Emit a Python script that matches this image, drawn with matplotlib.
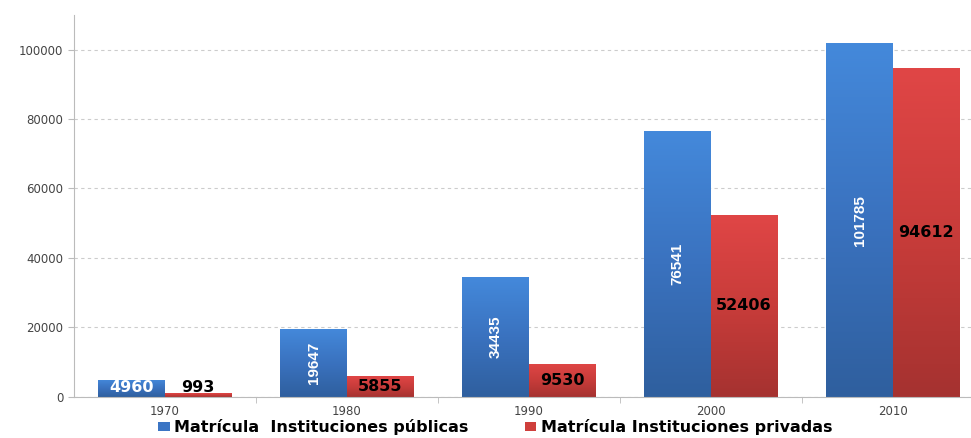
import numpy as np
import matplotlib
matplotlib.use("Agg")
from matplotlib import pyplot as plt
from matplotlib.colors import LinearSegmentedColormap

years = ["1970", "1980", "1990", "2000", "2010"]
publicas = [4960, 19647, 34435, 76541, 101785]
privadas = [993, 5855, 9530, 52406, 94612]
label_pub = "Matrícula  Instituciones públicas"
label_priv = "Matrícula Instituciones privadas"

fig = plt.figure(figsize=(9.71, 4.38), dpi=100)
ax = fig.add_axes([0.076, 0.094, 0.924, 0.872])

x = np.arange(len(years))
w = 0.365
b1 = ax.bar(x - w / 2, publicas, w, color="#3b75c4", label=label_pub, zorder=2)
b2 = ax.bar(x + w / 2, privadas, w, color="#cf3f3c", label=label_priv, zorder=2)

# fake the shaded look of the original bars
cm_blue = LinearSegmentedColormap.from_list("b", ["#2f5f9e", "#3a72bf", "#4489db"])
cm_red = LinearSegmentedColormap.from_list("r", ["#a53230", "#c83c3a", "#e04646"])
grad = np.linspace(0, 1, 256).reshape(-1, 1)
for bars, cm in ((b1, cm_blue), (b2, cm_red)):
    for p in bars:
        x0, y0 = p.get_x(), p.get_y()
        im = ax.imshow(grad, cmap=cm, aspect="auto", origin="lower",
                       extent=(x0, x0 + p.get_width(), y0, y0 + p.get_height()),
                       zorder=2.5)
        im.set_clip_path(p)
        p.set_edgecolor("none")

narrow = ["Liberation Sans", "DejaVu Sans"]
for i, v in enumerate(publicas):
    if i == 0:
        ax.text(x[i] - w / 2, v / 2 + 300, f"{v}", ha="center", va="center",
                color="white", fontsize=11.5, fontweight="bold", zorder=4)
    else:
        ax.text(x[i] - w / 2, v / 2, f"{v}", ha="center", va="center",
                color="white", fontsize=11, fontweight="bold", rotation=90,
                family=narrow, zorder=4)
for i, v in enumerate(privadas):
    yy = v / 2
    if i == 0:
        yy = v + 1700
    ax.text(x[i] + w / 2, yy, f"{v}", ha="center", va="center",
            color="black", fontsize=11.5, fontweight="bold", zorder=4)

ax.set_xlim(-0.5, 4.43)
ax.set_ylim(0, 110000)
ax.set_yticks(np.arange(0, 100001, 20000))
ax.set_xticks(x)
ax.set_xticklabels(years)
ax.set_xticks(np.arange(0.5, 4.5, 1), minor=True)
ax.tick_params(axis="x", which="major", length=0, labelsize=8.5, colors="#444444", pad=6)
ax.tick_params(axis="x", which="minor", length=4, color="#bbbbbb")
ax.tick_params(axis="y", length=4, color="#bbbbbb", labelsize=8.5, labelcolor="#444444")
ax.yaxis.grid(True, linestyle=(0, (3, 3)), color="#cccccc", linewidth=0.8, zorder=0)
ax.set_axisbelow(True)
for s in ("top", "right"):
    ax.spines[s].set_visible(False)
for s in ("left", "bottom"):
    ax.spines[s].set_color("#bbbbbb")

fig.legend(handles=[b1, b2], loc="lower center", bbox_to_anchor=(0.51, -0.026),
           ncol=2, frameon=False, handlelength=0.7, handleheight=0.5,
           columnspacing=3.5, handletextpad=0.3,
           prop={"weight": "bold", "size": 11.5})

fig.savefig("out.png", dpi=100)
